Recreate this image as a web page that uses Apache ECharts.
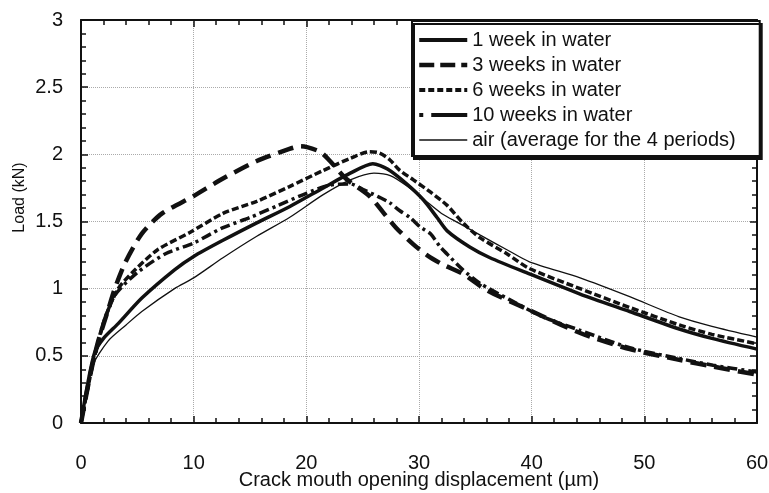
<!DOCTYPE html>
<html>
<head>
<meta charset="utf-8">
<script src="https://cdn.jsdelivr.net/npm/echarts@6/dist/echarts.min.js"></script>
<style>html,body{margin:0;padding:0;background:#fff}#c{width:769px;height:493px}</style>
</head>
<body>
<div id="c"></div>
<script>
// Data
var seriesNames = ['1 week in water', '3 weeks in water', '6 weeks in water', '10 weeks in water', 'air (average for the 4 periods)'];

var week1X = [0, 0.5, 1.2, 2, 3.3, 5.4, 8.3, 10, 12.6, 15.6, 18.5, 21.5, 23.9, 25.9, 27.2, 28.9, 30.4, 31.6, 32.5, 34.5, 36.3, 39.8, 44.3, 48.7, 53.1, 56, 60];
var week1Y = [0, 0.25, 0.52, 0.63, 0.74, 0.93, 1.14, 1.24, 1.36, 1.49, 1.61, 1.75, 1.86, 1.93, 1.89, 1.78, 1.66, 1.53, 1.43, 1.31, 1.23, 1.11, 0.96, 0.83, 0.70, 0.63, 0.55];

var week3X = [0, 0.8, 1.5, 2.4, 3, 3.9, 5.4, 7.2, 10, 12.6, 15.6, 18.5, 19.5, 21.2, 22.1, 23.5, 25.6, 26.8, 28, 29.5, 30.7, 32.1, 33.9, 36, 39.8, 44.3, 48.7, 53.1, 56.1, 60];
var week3Y = [0, 0.35, 0.6, 0.84, 1.0, 1.19, 1.41, 1.56, 1.69, 1.82, 1.95, 2.04, 2.06, 2.02, 1.95, 1.82, 1.69, 1.57, 1.45, 1.33, 1.25, 1.18, 1.11, 0.99, 0.84, 0.67, 0.55, 0.47, 0.42, 0.36];

var week6X = [0, 1, 2, 3.3, 4.8, 6.8, 9.7, 12.6, 15.6, 18.5, 21.5, 23.9, 25.6, 26.5, 27.4, 28.3, 29.5, 31, 32.5, 33.9, 35.4, 37.8, 39.8, 44.3, 48.7, 53.1, 56, 60];
var week6Y = [0, 0.42, 0.75, 1.0, 1.14, 1.29, 1.42, 1.56, 1.65, 1.76, 1.88, 1.97, 2.02, 2.01, 1.96, 1.88, 1.81, 1.72, 1.62, 1.49, 1.38, 1.26, 1.15, 1.0, 0.86, 0.73, 0.66, 0.59];

var week10X = [0, 1, 2, 3, 5, 7.5, 10, 12.5, 15, 17.5, 20, 22, 23.9, 25, 26.5, 27.4, 28.3, 29.2, 30.1, 31, 31.9, 32.7, 33.9, 35.4, 38, 41, 44.3, 48.7, 53.1, 56.1, 60];
var week10Y = [0, 0.43, 0.74, 0.95, 1.12, 1.26, 1.34, 1.45, 1.53, 1.62, 1.71, 1.77, 1.78, 1.74, 1.68, 1.64, 1.58, 1.53, 1.46, 1.41, 1.31, 1.24, 1.14, 1.04, 0.92, 0.79, 0.69, 0.56, 0.48, 0.43, 0.38];

var airX = [0, 1, 2.4, 4, 5.4, 8.3, 10, 12.6, 15.6, 18.5, 21.5, 23.9, 26, 27.5, 29, 30.5, 32, 33.5, 35.4, 37.8, 39.8, 44.3, 48.7, 53.1, 56, 60];
var airY = [0, 0.42, 0.61, 0.73, 0.83, 1.0, 1.08, 1.23, 1.39, 1.53, 1.70, 1.81, 1.86, 1.84, 1.76, 1.66, 1.56, 1.49, 1.40, 1.29, 1.20, 1.08, 0.94, 0.79, 0.72, 0.64];

var xTicks = [0, 10, 20, 30, 40, 50, 60];
var yTicks = [0, 0.5, 1, 1.5, 2, 2.5, 3];

function pairs(xs, ys) { return xs.map(function (x, i) { return [x, ys[i]]; }); }

var FONT = 'Liberation Sans, Arial, sans-serif';
var INK = '#111';

function xAx(pos, labels) {
  return {
    type: 'value', position: pos, min: xTicks[0], max: xTicks[xTicks.length - 1], interval: xTicks[1] - xTicks[0],
    axisLine: { show: true, onZero: false, lineStyle: { color: INK, width: 2 } },
    axisTick: { show: true, inside: true, length: 7, lineStyle: { color: INK, width: 1.5 } },
    minorTick: { show: true, splitNumber: 5, length: 5, lineStyle: { color: INK, width: 1.5 } },
    axisLabel: { show: labels, margin: 30, fontSize: 20, color: INK, fontFamily: FONT },
    splitLine: { show: labels, lineStyle: { color: '#aaa', type: 'dotted', width: 1 } },
    name: labels ? 'Crack mouth opening displacement (µm)' : '',
    nameLocation: 'middle', nameGap: 47, nameMoveOverlap: false,
    nameTextStyle: { fontSize: 20, color: INK, fontFamily: FONT }
  };
}
function yAx(pos, labels) {
  return {
    type: 'value', position: pos, min: yTicks[0], max: yTicks[yTicks.length - 1], interval: yTicks[1] - yTicks[0],
    axisLine: { show: true, onZero: false, lineStyle: { color: INK, width: 2 } },
    axisTick: { show: true, inside: true, length: 7, lineStyle: { color: INK, width: 1.5 } },
    minorTick: { show: true, splitNumber: 5, length: 5, lineStyle: { color: INK, width: 1.5 } },
    axisLabel: { show: labels, margin: 18, fontSize: 20, color: INK, fontFamily: FONT },
    splitLine: { show: labels, lineStyle: { color: '#aaa', type: 'dotted', width: 1 } },
    name: labels ? 'Load (kN)' : '',
    nameLocation: 'middle', nameGap: 53, nameMoveOverlap: false,
    nameTextStyle: { fontSize: 16, color: INK, fontFamily: FONT, padding: [0, 0, 0, 48] }
  };
}

var styles = [
  { width: 3.5, type: 'solid' },
  { width: 4.5, type: [16, 8] },
  { width: 3.5, type: [7, 3] },
  { width: 3.5, type: [3, 4, 10, 4] },
  { width: 1.3, type: 'solid' }
];
var legendStyles = [
  { width: 4, type: 'solid' },
  { width: 4.5, type: [15, 6], dashOffset: 0 },
  { width: 4, type: [6, 3] },
  { width: 4, type: [4, 8, 36, 4] },
  { width: 1.5, type: 'solid' }
];
var dataSets = [pairs(week1X, week1Y), pairs(week3X, week3Y), pairs(week6X, week6Y), pairs(week10X, week10Y), pairs(airX, airY)];

var chart = echarts.init(document.getElementById('c'), null, { renderer: 'canvas' });
chart.setOption({
  backgroundColor: '#fff',
  animation: false,
  grid: { left: 81, right: 12, top: 20, bottom: 70, containLabel: false, outerBoundsMode: 'none' },
  xAxis: [xAx('bottom', true), xAx('top', false)],
  yAxis: [yAx('left', true), yAx('right', false)],
  legend: {
    orient: 'vertical', left: 412, top: 21,
    data: seriesNames.map(function (n, i) {
      return { name: n, lineStyle: { color: INK, width: legendStyles[i].width, type: legendStyles[i].type, dashOffset: legendStyles[i].dashOffset || 0 } };
    }),
    itemWidth: 48, itemHeight: 14, itemGap: 5,
    padding: [9, 24, 6, 5],
    backgroundColor: '#fff', borderColor: INK, borderWidth: 2,
    shadowColor: INK, shadowBlur: 0, shadowOffsetX: 2, shadowOffsetY: 3,
    itemStyle: { color: 'rgba(0,0,0,0)', borderWidth: 0, opacity: 0 },
    textStyle: { fontSize: 20, color: INK, fontFamily: FONT, lineHeight: 20 }
  },
  series: dataSets.map(function (d, i) {
    return {
      name: seriesNames[i], type: 'line', data: d,
      xAxisIndex: 0, yAxisIndex: 0,
      symbol: 'none', smooth: 0.25,
      lineStyle: { color: INK, width: styles[i].width, type: styles[i].type },
      itemStyle: { color: INK },
      z: i === 4 ? 3 : 2
    };
  })
});
</script>
</body>
</html>
